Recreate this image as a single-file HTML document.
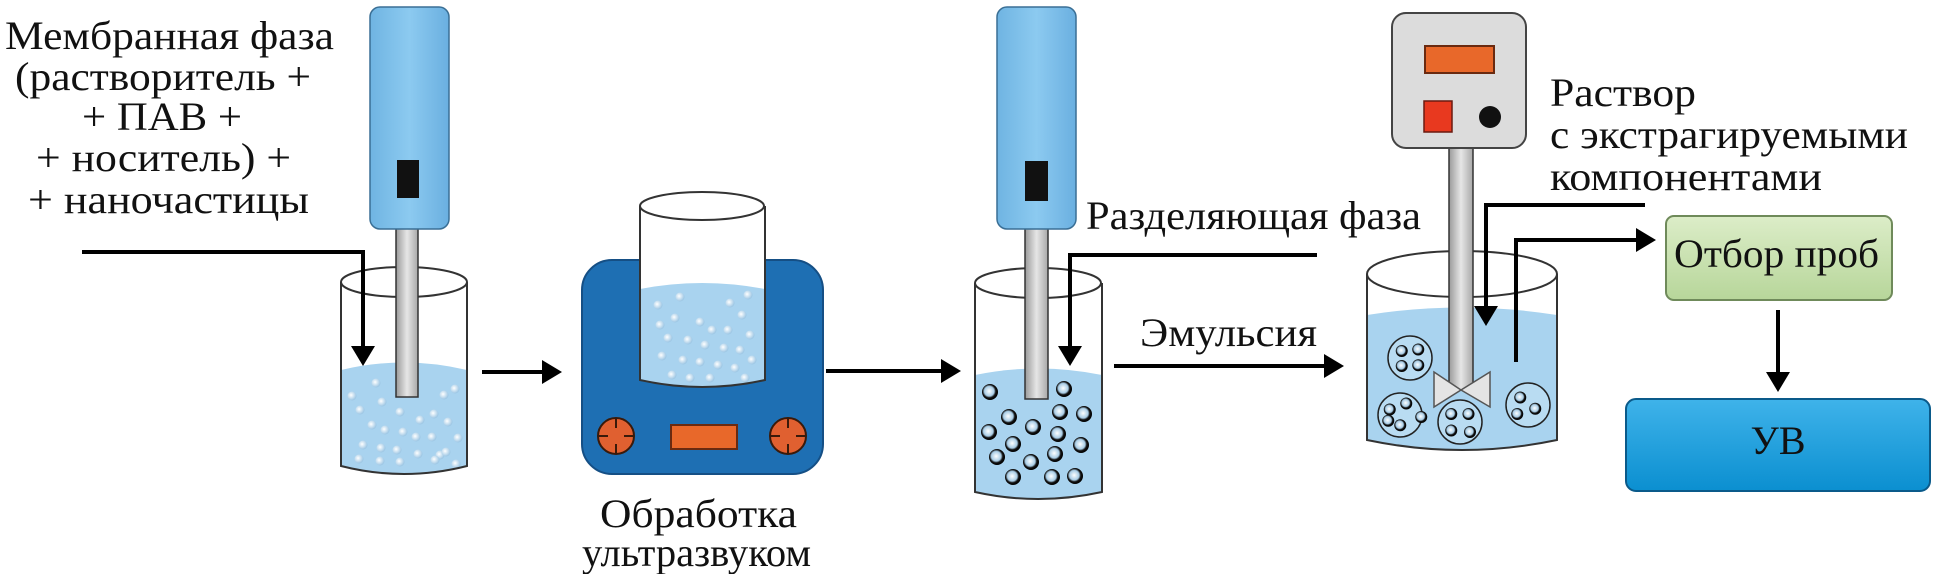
<!DOCTYPE html>
<html><head><meta charset="utf-8"><style>
html,body{margin:0;padding:0;background:#fff;}
svg{display:block;}
svg text{font-family:"Liberation Serif","DejaVu Serif",serif;fill:#111;}
</style></head><body>
<svg width="1941" height="574" viewBox="0 0 1941 574" xmlns="http://www.w3.org/2000/svg" font-family="Liberation Serif, DejaVu Serif, serif">
<defs>
<linearGradient id="blue" x1="0" x2="1"><stop offset="0" stop-color="#6fb4e2"/><stop offset="0.5" stop-color="#8ccaf0"/><stop offset="1" stop-color="#6aafe0"/></linearGradient>
<linearGradient id="shaft" x1="0" x2="1"><stop offset="0" stop-color="#9a9a9a"/><stop offset="0.5" stop-color="#e6e6e6"/><stop offset="1" stop-color="#a8a8a8"/></linearGradient>
<radialGradient id="bub" cx="0.4" cy="0.4" r="0.6"><stop offset="0" stop-color="#fff"/><stop offset="1" stop-color="#9cc6e4"/></radialGradient>
<radialGradient id="dot" cx="0.45" cy="0.45" r="0.55"><stop offset="0" stop-color="#fff"/><stop offset="0.55" stop-color="#a9cde6"/><stop offset="0.75" stop-color="#111"/><stop offset="1" stop-color="#000"/></radialGradient>
<linearGradient id="green" x1="0" y1="0" x2="0" y2="1"><stop offset="0" stop-color="#dcedc8"/><stop offset="1" stop-color="#b7d69a"/></linearGradient>
<linearGradient id="uv" x1="0" y1="0" x2="0" y2="1"><stop offset="0" stop-color="#3fb3ea"/><stop offset="1" stop-color="#0b8fd0"/></linearGradient>
<marker id="ah" markerWidth="6" markerHeight="6" refX="4" refY="3" orient="auto" markerUnits="strokeWidth"><path d="M0,0 L5,3 L0,6 z" fill="#000"/></marker>
<g id="bb"><circle r="4.5" fill="url(#bub)"/></g>
<g id="bd"><circle r="8" fill="url(#dot)"/></g>
</defs>

<g font-size="40" font-family="Liberation Serif, DejaVu Serif, serif">
<text x="5" y="49" textLength="329" lengthAdjust="spacingAndGlyphs">Мембранная фаза</text>
<text x="15" y="90" textLength="296" lengthAdjust="spacingAndGlyphs">(растворитель +</text>
<text x="82" y="130" textLength="160" lengthAdjust="spacingAndGlyphs">+ ПАВ +</text>
<text x="36" y="171" textLength="255" lengthAdjust="spacingAndGlyphs">+ носитель) +</text>
<text x="28" y="213" textLength="281" lengthAdjust="spacingAndGlyphs">+ наночастицы</text>
</g>

<path d="M341,370 Q404,355 467,370 L467,466 Q404,482 341,466 Z" fill="#a9d3ef"/>
<g>
<use href="#bb" x="352" y="396"/><use href="#bb" x="376" y="383"/><use href="#bb" x="360" y="410"/><use href="#bb" x="382" y="402"/><use href="#bb" x="400" y="412"/><use href="#bb" x="420" y="420"/><use href="#bb" x="434" y="414"/><use href="#bb" x="448" y="422"/><use href="#bb" x="372" y="425"/><use href="#bb" x="385" y="430"/><use href="#bb" x="403" y="432"/><use href="#bb" x="416" y="437"/><use href="#bb" x="432" y="437"/><use href="#bb" x="458" y="438"/><use href="#bb" x="363" y="445"/><use href="#bb" x="381" y="448"/><use href="#bb" x="397" y="450"/><use href="#bb" x="418" y="454"/><use href="#bb" x="440" y="455"/><use href="#bb" x="446" y="452"/><use href="#bb" x="359" y="459"/><use href="#bb" x="380" y="461"/><use href="#bb" x="400" y="462"/><use href="#bb" x="435" y="460"/><use href="#bb" x="455" y="389"/><use href="#bb" x="444" y="395"/><use href="#bb" x="456" y="464"/>
</g>
<path d="M341,282 L341,466 Q404,482 467,466 L467,282" fill="none" stroke="#333" stroke-width="2"/>
<ellipse cx="404" cy="282" rx="63" ry="15" fill="none" stroke="#333" stroke-width="2"/>
<rect x="396" y="225" width="22" height="172" fill="url(#shaft)" stroke="#333" stroke-width="1.5"/>
<rect x="370" y="7" width="79" height="222" rx="10" fill="url(#blue)" stroke="#3a6f95" stroke-width="1.5"/>
<rect x="397" y="160" width="22" height="38" fill="#111"/>
<polyline points="82,252 363,252 363,362" fill="none" stroke="#000" stroke-width="4" marker-end="url(#ah)"/>
<line x1="482" y1="372" x2="558" y2="372" stroke="#000" stroke-width="4" marker-end="url(#ah)"/>

<rect x="582" y="260" width="241" height="214" rx="30" fill="#1e6fb3" stroke="#154f85" stroke-width="2"/>
<path d="M640,206 L640,380 Q702,394 765,380 L765,206 Z" fill="#fff"/>
<path d="M640,289 Q702,277 765,289 L765,380 Q702,394 640,380 Z" fill="#a9d3ef"/>
<g>
<use href="#bb" x="658" y="305"/><use href="#bb" x="680" y="297"/><use href="#bb" x="730" y="303"/><use href="#bb" x="748" y="295"/><use href="#bb" x="742" y="315"/><use href="#bb" x="660" y="325"/><use href="#bb" x="675" y="318"/><use href="#bb" x="700" y="322"/><use href="#bb" x="712" y="330"/><use href="#bb" x="728" y="330"/><use href="#bb" x="750" y="335"/><use href="#bb" x="668" y="338"/><use href="#bb" x="688" y="340"/><use href="#bb" x="705" y="345"/><use href="#bb" x="724" y="348"/><use href="#bb" x="740" y="350"/><use href="#bb" x="662" y="356"/><use href="#bb" x="683" y="360"/><use href="#bb" x="700" y="362"/><use href="#bb" x="718" y="365"/><use href="#bb" x="735" y="368"/><use href="#bb" x="752" y="360"/><use href="#bb" x="672" y="375"/><use href="#bb" x="690" y="378"/><use href="#bb" x="710" y="378"/><use href="#bb" x="745" y="378"/>
</g>
<path d="M640,206 L640,380 Q702,394 765,380 L765,206" fill="none" stroke="#333" stroke-width="2"/>
<ellipse cx="702" cy="206" rx="62" ry="14" fill="#fff" stroke="#333" stroke-width="2"/>
<g stroke="#3a1a0a" stroke-width="2">
<circle cx="616" cy="436" r="18" fill="#e06030"/>
<circle cx="788" cy="436" r="18" fill="#e06030"/>
<line x1="598" y1="436" x2="608" y2="436"/><line x1="624" y1="436" x2="634" y2="436"/><line x1="616" y1="418" x2="616" y2="428"/><line x1="616" y1="444" x2="616" y2="454"/>
<line x1="770" y1="436" x2="780" y2="436"/><line x1="796" y1="436" x2="806" y2="436"/><line x1="788" y1="418" x2="788" y2="428"/><line x1="788" y1="444" x2="788" y2="454"/>
</g>
<rect x="671" y="425" width="66" height="24" fill="#e8682a" stroke="#6a2a10" stroke-width="2"/>
<text x="600" y="527" font-size="40" textLength="197" lengthAdjust="spacingAndGlyphs">Обработка</text>
<text x="582" y="566" font-size="40" textLength="229" lengthAdjust="spacingAndGlyphs">ультразвуком</text>
<line x1="826" y1="371" x2="957" y2="371" stroke="#000" stroke-width="4" marker-end="url(#ah)"/>

<path d="M975,375 Q1038,362 1102,375 L1102,492 Q1038,506 975,492 Z" fill="#a9d3ef"/>
<g>
<use href="#bd" x="990" y="392"/><use href="#bd" x="1064" y="389"/><use href="#bd" x="1009" y="417"/><use href="#bd" x="1060" y="412"/><use href="#bd" x="1084" y="414"/><use href="#bd" x="989" y="432"/><use href="#bd" x="1033" y="427"/><use href="#bd" x="1058" y="434"/><use href="#bd" x="1013" y="444"/><use href="#bd" x="1081" y="445"/><use href="#bd" x="997" y="457"/><use href="#bd" x="1055" y="454"/><use href="#bd" x="1031" y="462"/><use href="#bd" x="1013" y="477"/><use href="#bd" x="1052" y="477"/><use href="#bd" x="1075" y="476"/>
</g>
<path d="M975,283 L975,492 Q1038,506 1102,492 L1102,283" fill="none" stroke="#333" stroke-width="2"/>
<ellipse cx="1038" cy="283" rx="63" ry="15" fill="none" stroke="#333" stroke-width="2"/>
<rect x="1025" y="225" width="23" height="174" fill="url(#shaft)" stroke="#333" stroke-width="1.5"/>
<rect x="997" y="7" width="79" height="222" rx="10" fill="url(#blue)" stroke="#3a6f95" stroke-width="1.5"/>
<rect x="1025" y="161" width="23" height="40" fill="#111"/>
<text x="1086" y="229" font-size="40" textLength="335" lengthAdjust="spacingAndGlyphs">Разделяющая фаза</text>
<polyline points="1317,255 1070,255 1070,362" fill="none" stroke="#000" stroke-width="4" marker-end="url(#ah)"/>
<text x="1140" y="346" font-size="40" textLength="177" lengthAdjust="spacingAndGlyphs">Эмульсия</text>
<line x1="1114" y1="366" x2="1340" y2="366" stroke="#000" stroke-width="4" marker-end="url(#ah)"/>

<path d="M1367,315 Q1462,300 1557,315 L1557,440 Q1462,460 1367,440 Z" fill="#a9d3ef"/>
<g stroke="#222" stroke-width="1.5" fill="#b9dcf2">
<circle cx="1410" cy="358" r="22"/><circle cx="1400" cy="415" r="22"/><circle cx="1460" cy="422" r="22"/><circle cx="1528" cy="405" r="22"/>
</g>
<g transform="scale(0.75)">
<use href="#bd" x="1869" y="468"/><use href="#bd" x="1891" y="466"/><use href="#bd" x="1869" y="488"/><use href="#bd" x="1891" y="487"/>
<use href="#bd" x="1853" y="546"/><use href="#bd" x="1875" y="538"/><use href="#bd" x="1895" y="556"/><use href="#bd" x="1867" y="567"/><use href="#bd" x="1851" y="561"/>
<use href="#bd" x="1935" y="552"/><use href="#bd" x="1958" y="552"/><use href="#bd" x="1935" y="574"/><use href="#bd" x="1960" y="576"/>
<use href="#bd" x="2027" y="530"/><use href="#bd" x="2047" y="545"/><use href="#bd" x="2023" y="552"/>
</g>
<path d="M1367,274 L1367,440 Q1462,460 1557,440 L1557,274" fill="none" stroke="#333" stroke-width="2"/>
<ellipse cx="1462" cy="274" rx="95" ry="23" fill="none" stroke="#333" stroke-width="2"/>
<rect x="1449" y="146" width="24" height="244" fill="url(#shaft)" stroke="#333" stroke-width="1.5"/>
<path d="M1434,372 L1461,390 L1490,372 L1490,407 L1461,390 L1434,407 Z" fill="#e4e4e4" stroke="#555" stroke-width="1.5"/>
<rect x="1392" y="13" width="134" height="135" rx="14" fill="#dcdcdc" stroke="#444" stroke-width="2"/>
<rect x="1425" y="46" width="69" height="27" fill="#e8682a" stroke="#6a2a10" stroke-width="2"/>
<rect x="1424" y="101" width="28" height="31" fill="#e8391f" stroke="#6a1a10" stroke-width="1.5"/>
<circle cx="1490" cy="117" r="11" fill="#111"/>
<text x="1550" y="106" font-size="40" textLength="146" lengthAdjust="spacingAndGlyphs">Раствор</text>
<text x="1550" y="148" font-size="40" textLength="358" lengthAdjust="spacingAndGlyphs">с экстрагируемыми</text>
<text x="1550" y="190" font-size="40" textLength="272" lengthAdjust="spacingAndGlyphs">компонентами</text>
<polyline points="1645,205 1486,205 1486,322" fill="none" stroke="#000" stroke-width="4" marker-end="url(#ah)"/>
<polyline points="1516,362 1516,240 1652,240" fill="none" stroke="#000" stroke-width="4" marker-end="url(#ah)"/>

<rect x="1666" y="216" width="226" height="84" rx="8" fill="url(#green)" stroke="#6f8a5a" stroke-width="2"/>
<text x="1674" y="267" font-size="40" textLength="205" lengthAdjust="spacingAndGlyphs">Отбор проб</text>
<line x1="1778" y1="310" x2="1778" y2="388" stroke="#000" stroke-width="4" marker-end="url(#ah)"/>
<rect x="1626" y="399" width="304" height="92" rx="10" fill="url(#uv)" stroke="#0a5a8a" stroke-width="2"/>
<text x="1778" y="454" font-size="40" text-anchor="middle">УВ</text>
</svg>
</body></html>
